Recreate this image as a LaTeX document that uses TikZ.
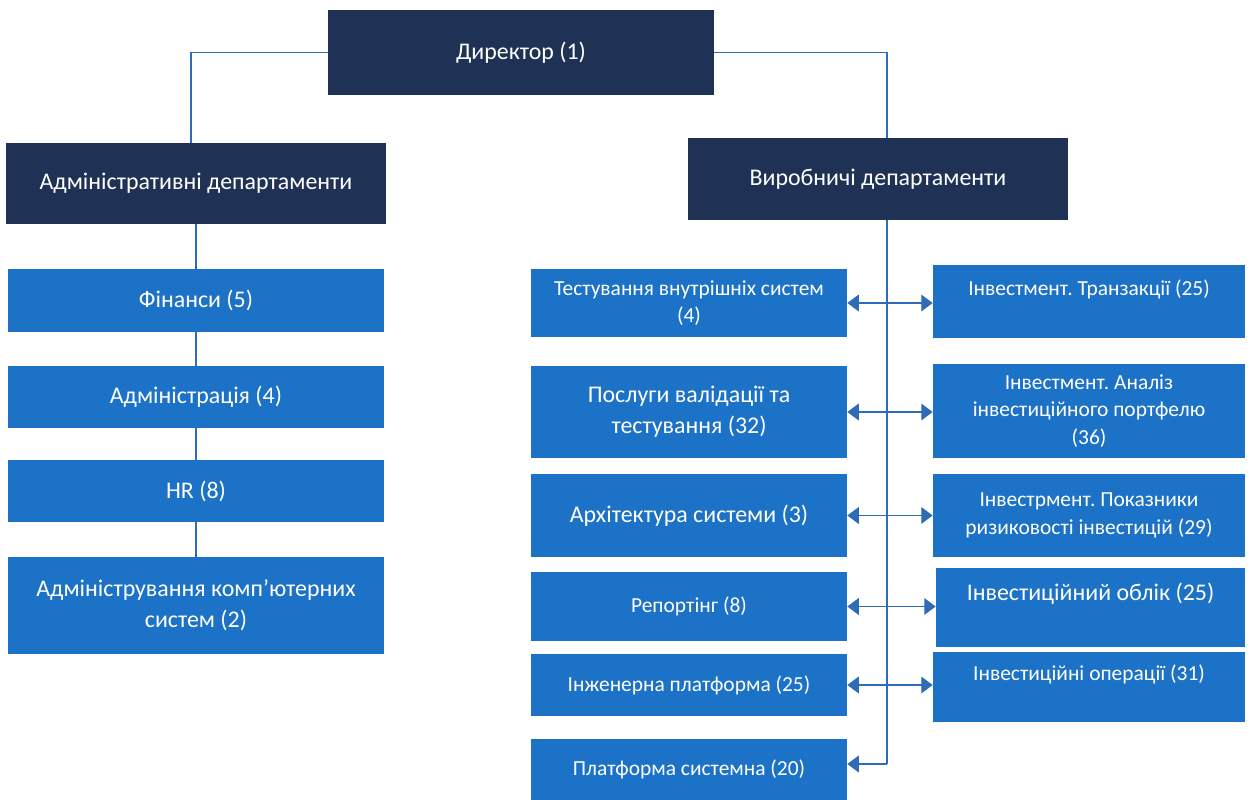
\documentclass[tikz,border=0pt]{standalone}
\usepackage{fontspec}
\setmainfont{Carlito}
\usetikzlibrary{arrows.meta}
\frenchspacing

\definecolor{navy}{RGB}{31,50,86}
\definecolor{boxblue}{RGB}{28,114,198}
\definecolor{lineblue}{RGB}{46,108,184}

\tikzset{
  head/.style={fill=navy, text=white, align=center, inner sep=2pt,
    font=\fontsize{13.6}{17.5}\selectfont},
  unit/.style={fill=boxblue, text=white, align=center, inner sep=2pt,
    font=\fontsize{13.6}{17.5}\selectfont},
  small/.style={font=\fontsize{12.2}{15.8}\selectfont},
  link/.style={draw=lineblue, line width=0.7pt},
  both/.style={link, {Triangle[width=9.5pt,length=6.5pt]}-{Triangle[width=9.5pt,length=6.5pt]}},
  one/.style={link, -{Triangle[width=9.5pt,length=6.5pt]}},
}

\begin{document}
\begin{tikzpicture}[x=0.02cm, y=-0.02cm]
    \useasboundingbox (0,0) rectangle (1250,800);
    % top levels
    \node[head, minimum width=7.72cm, minimum height=1.70cm] (dir) at (521,52.5) {Директор (1)};
    \node[head, minimum width=7.6cm, minimum height=1.62cm] (adm) at (196,183.5) {Адміністративні департаменти};
    \node[head, minimum width=7.6cm, minimum height=1.64cm] (prod) at (878,179) {Виробничі департаменти};

    % administrative column
    \node[unit, minimum width=7.54cm, minimum height=1.26cm] (fin) at (196,300.5) {Фінанси (5)};
    \node[unit, minimum width=7.54cm, minimum height=1.24cm] (admin) at (196,397) {Адміністрація (4)};
    \node[unit, minimum width=7.54cm, minimum height=1.24cm] (hr) at (196,491) {HR (8)};
    \node[unit, minimum width=7.54cm, minimum height=1.94cm] (cs) at (196,605.5) {Адміністрування комп’ютерних\\систем (2)};

    % production, left side
    \node[unit, small, minimum width=6.32cm, minimum height=1.36cm] (test) at (689,303) {Тестування внутрішніх систем\\(4)};
    \node[unit, minimum width=6.32cm, minimum height=1.84cm] (valid) at (689,412) {Послуги валідації та\\тестування (32)};
    \node[unit, minimum width=6.32cm, minimum height=1.66cm] (arch) at (689,515.5) {Архітектура системи (3)};
    \node[unit, small, minimum width=6.32cm, minimum height=1.38cm] (rep) at (689,606.5) {Репортінг (8)};
    \node[unit, small, minimum width=6.32cm, minimum height=1.24cm] (eng) at (689,685) {Інженерна платформа (25)};
    \node[unit, small, minimum width=6.32cm, minimum height=1.22cm] (plat) at (689,769.5) {Платформа системна (20)};

    % production, right side
    \node[unit, small, minimum width=6.24cm, minimum height=1.46cm] (trans) at (1089,301.5) {Інвестмент. Транзакції (25)\\\mbox{}};
    \node[unit, small, minimum width=6.24cm, minimum height=1.88cm] (anal) at (1089,411) {Інвестмент. Аналіз\\інвестиційного портфелю\\(36)};
    \node[unit, small, minimum width=6.24cm, minimum height=1.66cm] (risk) at (1089,515.5) {Інвестрмент. Показники\\ризиковості інвестицій (29)};
    \node[unit, minimum width=6.18cm, minimum height=1.58cm] (acc) at (1090.5,607.5) {Інвестиційний облік (25)\\\mbox{}};
    \node[unit, small, minimum width=6.24cm, minimum height=1.40cm] (ops) at (1089,687) {Інвестиційні операції (31)\\\mbox{}};

    % connectors
    \coordinate (sTop) at (887,220);
    \coordinate (sEnd) at (887,764);
    \draw[link] (dir.west) -| (191,143);
    \draw[link] (dir.east) -| (sTop |- prod.north);
    \draw[link] (adm) -- (fin) -- (admin) -- (hr) -- (cs);
    \draw[link] (sTop) -- (sEnd);
    \draw[both] (test.east) -- (test.east -| trans.west);
    \draw[both] (valid.east) -- (valid.east -| anal.west);
    \draw[both] (arch.east) -- (arch.east -| risk.west);
    \draw[both] (rep.east) -- (rep.east -| acc.west);
    \draw[both] (eng.east) -- (eng.east -| ops.west);
    \draw[one] (sEnd) -- (sEnd -| plat.east);
\end{tikzpicture}
\end{document}
